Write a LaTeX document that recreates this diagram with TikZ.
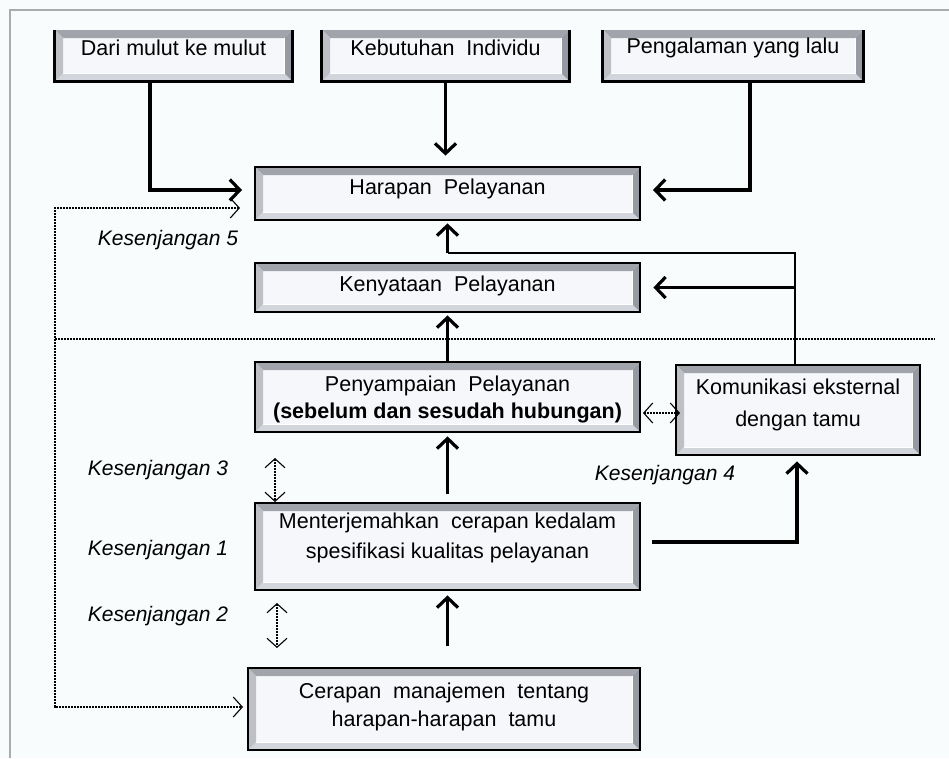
\documentclass[tikz,border=0pt]{standalone}
\usepackage{fontspec}
\setmainfont{Liberation Sans}
\usetikzlibrary{arrows.meta}
\definecolor{bg}{HTML}{F8FCFD}
\definecolor{face}{HTML}{F5F7FA}
\definecolor{framec}{HTML}{ABABAB}
\definecolor{bvtop}{HTML}{A2A4AB}
\definecolor{bvleft}{HTML}{BEC0C6}
\definecolor{bvright}{HTML}{969AA3}
\definecolor{bvbot}{HTML}{D2D5DB}
\tikzset{
  bevel/.style={fill=face, path picture={
    \path (path picture bounding box.north west) coordinate (@nw)
          (path picture bounding box.north east) coordinate (@ne)
          (path picture bounding box.south west) coordinate (@sw)
          (path picture bounding box.south east) coordinate (@se);
    \fill[bvtop] (@nw) -- (@ne) -- ([shift={(-8pt,-8pt)}]@ne) -- ([shift={(8pt,-8pt)}]@nw) -- cycle;
    \fill[bvbot] (@sw) -- (@se) -- ([shift={(-8pt,8pt)}]@se) -- ([shift={(8pt,8pt)}]@sw) -- cycle;
    \fill[bvleft] (@nw) -- ([shift={(8pt,-8pt)}]@nw) -- ([shift={(8pt,8pt)}]@sw) -- (@sw) -- cycle;
    \fill[bvright] (@ne) -- ([shift={(-8pt,-8pt)}]@ne) -- ([shift={(-8pt,8pt)}]@se) -- (@se) -- cycle;
    \draw[white, line width=0.8pt] ([shift={(8pt,8pt)}]@sw) -- ([shift={(-8pt,8pt)}]@se) -- ([shift={(-8pt,-8pt)}]@ne);
  }},
  box/.style={bevel, draw=black, line width=2.8pt, inner sep=0pt},
  topbox/.style={bevel, inner sep=0pt},
  txt/.style={align=center, inner sep=0pt, text=black},
  gap/.style={txt, font=\fontsize{21}{28}\selectfont\itshape},
  arr/.style={line width=3.2pt, -{Straight Barb[length=10pt,width=21pt]}},
  thinline/.style={line width=2.2pt},
  dotl/.style={line width=1.4pt, dash pattern=on 1.8pt off 1.2pt},
  dtip/.style={dotl, {Straight Barb[length=9pt,width=20pt,line width=1.1pt]}-{Straight Barb[length=9pt,width=20pt,line width=1.1pt]}}
}
\begin{document}
\begin{tikzpicture}[x=1pt, y=-1pt, font=\fontsize{21.5}{28}\selectfont]
\useasboundingbox (0,0) rectangle (949,758);
\fill[bg] (0,0) rectangle (949,758);
\draw[framec, line width=2.4pt] (10,758) -- (10,10) -- (949,10);

% top boxes (top edge clipped)
\node[topbox, minimum width=237pt, minimum height=51pt] (d1) at (173.5,55.5) {};
\node[topbox, minimum width=247pt, minimum height=51pt] (d2) at (445.5,55.5) {};
\node[topbox, minimum width=260pt, minimum height=51pt] (d3) at (733,55.5) {};
\foreach \n in {d1,d2,d3}{
  \draw[line width=2.8pt] (\n.north west) -- (\n.south west) -- (\n.south east) -- (\n.north east);
}
\node[txt] (d1t) at (173.5,48) {Dari mulut ke mulut};
\node[txt] (d2t) at (445.5,48) {Kebutuhan\ \ Individu};
\node[txt] (d3t) at (733,48) {Pengalaman\ yang\ lalu};

% main boxes
\node[box, minimum width=385pt, minimum height=53pt] (hp) at (447.5,193.5) {};
\node[txt] (hpt) at (447.5,189) {Harapan\ \ Pelayanan};
\node[box, minimum width=385pt, minimum height=49pt] (kp) at (447.5,287.5) {};
\node[txt] (kpt) at (447.5,286) {Kenyataan\ \ Pelayanan};
\node[box, minimum width=385pt, minimum height=70pt] (ps) at (447.5,397) {};
\node[txt, font=\fontsize{21.5}{27}\selectfont] (pst) at (447.5,399) {Penyampaian\ \ Pelayanan\\\textbf{(sebelum dan sesudah hubungan)}};
\node[box, minimum width=244pt, minimum height=90pt] (km) at (798,410) {};
\node[txt, font=\fontsize{21.5}{32}\selectfont] (kmt) at (798,405) {Komunikasi\ eksternal\\dengan\ tamu};
\node[box, minimum width=385pt, minimum height=87pt] (mt) at (447.5,546.5) {};
\node[txt, font=\fontsize{21.5}{30}\selectfont] (mtt) at (447.5,538) {Menterjemahkan\ \ cerapan\ kedalam\\spesifikasi\ kualitas\ pelayanan};
\node[box, minimum width=392pt, minimum height=82pt] (cp) at (444,709) {};
\node[txt, font=\fontsize{21.5}{28}\selectfont] (cpt) at (444,707) {Cerapan\ \ manajemen\ \ tentang\\harapan-harapan\ \ tamu};

% gap labels
\node[gap] (g5) at (168,240) {Kesenjangan 5};
\node[gap] (g3) at (158,470) {Kesenjangan 3};
\node[gap] (g1) at (158,550) {Kesenjangan 1};
\node[gap] (g2) at (158,616) {Kesenjangan 2};
\node[gap] (g4) at (665,475) {Kesenjangan 4};

% coordinates
\coordinate (a1) at (242,190);
\coordinate (v1) at (150,190);
\coordinate (a3) at (653,190);
\coordinate (v3) at (750,190);
\coordinate (j1) at (795,253);
\coordinate (j2) at (795,287.5);
\coordinate (m1) at (652,542);
\coordinate (m2) at (797,542);
\coordinate (q1) at (643,413);
\coordinate (q2) at (680,413);
\coordinate (g3a) at (275,458);
\coordinate (g3b) at (275,502);
\coordinate (g2a) at (277,603);
\coordinate (g2b) at (277,648);
\coordinate (l1) at (240,208);
\coordinate (l2) at (55,208);
\coordinate (l3) at (55,707);
\coordinate (l4) at (243,707);
\coordinate (h1) at (55,339);
\coordinate (h2) at (935,339);

% solid connectors
\draw[arr] (d1.south -| v1) -- (v1) -- (a1);
\draw[arr, shorten >=10pt] (d2.south) -- (d2.south |- hp.north);
\draw[arr] (d3.south -| v3) -- (v3) -- (a3);
\draw[thinline] (km.north -| j1) -- (j1) -- (j1 -| hp.south);
\draw[arr, shorten >=2pt] (j1 -| hp.south) -- (hp.south);
\draw[arr] (j2) -- ([xshift=12pt]kp.east);
\draw[arr, shorten >=2pt] (ps.north) -- (kp.south);
\draw[arr, shorten >=3pt] ([yshift=8pt]mt.north) -- (ps.south);
\draw[arr, shorten >=4pt] ([yshift=-55pt]mt.south) -- (mt.south);
\draw[arr, shorten >=5pt] (m1) -- (m2) -- (m2 |- km.south);

% dotted connectors
\draw[dtip] (q1) -- (q2);
\draw[dtip] (g3a) -- (g3b);
\draw[dtip] (g2a) -- (g2b);
\draw[dtip] (l1) -- (l2) -- (l3) -- (l4);
\draw[dotl] (h1) -- (h2);
\end{tikzpicture}
\end{document}
